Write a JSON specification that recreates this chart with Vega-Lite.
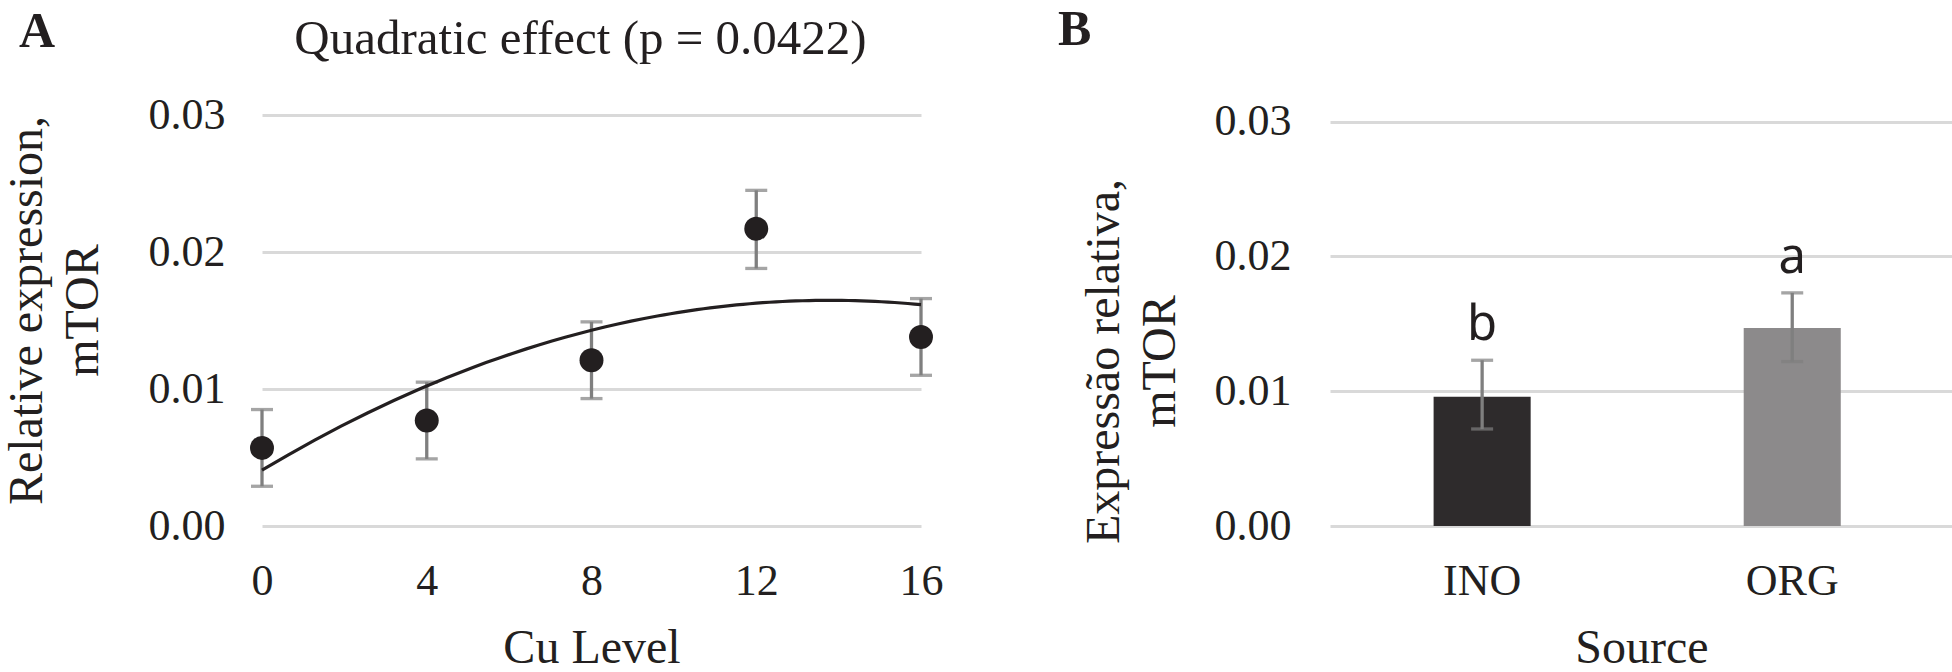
{
  "$schema": "https://vega.github.io/schema/vega-lite/v6.json",
  "background": "white",
  "padding": {"left": 3, "top": 4, "right": 0, "bottom": 0},
  "title": {"text": "A", "anchor": "start", "frame": "bounds", "font": "Liberation Serif", "fontSize": 50, "fontWeight": "bold", "color": "#231f20", "offset": -52, "dx": 16},
  "datasets": {
    "cu": [
      {"cu": 0, "mean": 0.0057, "lo": 0.0029, "hi": 0.0085},
      {"cu": 4, "mean": 0.0077, "lo": 0.0049, "hi": 0.0105},
      {"cu": 8, "mean": 0.0121, "lo": 0.0093, "hi": 0.0149},
      {"cu": 12, "mean": 0.0217, "lo": 0.0188, "hi": 0.0245},
      {"cu": 16, "mean": 0.0138, "lo": 0.0110, "hi": 0.0166}
    ],
    "src": [
      {"source": "INO", "mean": 0.0096, "lo": 0.0072, "hi": 0.0123, "letter": "b"},
      {"source": "ORG", "mean": 0.0147, "lo": 0.0122, "hi": 0.0173, "letter": "a"}
    ]
  },
  "config": {
    "view": {"stroke": null},
    "axis": {
      "labelFont": "Liberation Serif", "labelFontSize": 44, "labelColor": "#231f20",
      "titleFont": "Liberation Serif", "titleFontSize": 48, "titleFontWeight": "normal", "titleColor": "#231f20",
      "domain": false, "ticks": false, "gridColor": "#d9d9d9", "gridWidth": 3, "labelFlush": false
    }
  },
  "spacing": 115,
  "hconcat": [
    {
      "width": 659, "height": 411,
      "title": {"text": "Quadratic effect (p = 0.0422)", "font": "Liberation Serif", "fontSize": 49, "fontWeight": "normal", "color": "#231f20", "anchor": "middle", "offset": 29, "dx": -11},
      "data": {"name": "cu"},
      "layer": [
        {
          "mark": {"type": "errorbar", "ticks": {"size": 22, "thickness": 3.3, "color": "#7f7f7f"}, "rule": {"strokeWidth": 3.3, "color": "#7f7f7f"}},
          "encoding": {
            "x": {"field": "cu", "type": "quantitative", "scale": {"domain": [0, 16], "nice": false, "zero": false},
                  "axis": {"values": [0, 4, 8, 12, 16], "grid": false, "title": "Cu Level", "labelPadding": 33, "titlePadding": 21, "labelFlush": false}},
            "y": {"field": "lo", "type": "quantitative", "scale": {"domain": [0, 0.03], "nice": false},
                  "axis": {"values": [0, 0.01, 0.02, 0.03], "format": ".2f", "grid": true, "labelPadding": 37, "titlePadding": 41,
                           "title": ["Relative expression,", "mTOR"], "titleLineHeight": 56, "titleY": 195}},
            "y2": {"field": "hi"}
          }
        },
        {
          "transform": [{"regression": "mean", "on": "cu", "method": "poly", "order": 2, "extent": [0, 16]}],
          "mark": {"type": "line", "color": "#231f20", "strokeWidth": 3.2},
          "encoding": {
            "x": {"field": "cu", "type": "quantitative"},
            "y": {"field": "mean", "type": "quantitative"}
          }
        },
        {
          "mark": {"type": "circle", "size": 573, "opacity": 1, "color": "#231f20"},
          "encoding": {
            "x": {"field": "cu", "type": "quantitative"},
            "y": {"field": "mean", "type": "quantitative"}
          }
        }
      ]
    },
    {
      "width": 623, "height": 411,
      "title": {"text": "B", "anchor": "start", "frame": "bounds", "font": "Liberation Serif", "fontSize": 50, "fontWeight": "bold", "color": "#231f20", "dx": -22, "offset": 45},
      "data": {"name": "src"},
      "layer": [
        {
          "mark": {"type": "bar"},
          "encoding": {
            "x": {"field": "source", "type": "nominal", "scale": {"paddingInner": 0.687, "paddingOuter": 0.348, "align": 0.48},
                  "axis": {"labelAngle": 0, "title": "Source", "labelPadding": 33, "titlePadding": 21}},
            "y": {"field": "mean", "type": "quantitative", "scale": {"domain": [0, 0.0305], "nice": false},
                  "axis": {"values": [0, 0.01, 0.02, 0.03], "format": ".2f", "grid": true, "labelPadding": 39, "titlePadding": 30,
                           "title": ["Expressão relativa,", "mTOR"], "titleLineHeight": 56, "titleY": 246}},
            "color": {"field": "source", "type": "nominal", "scale": {"domain": ["INO", "ORG"], "range": ["#2e2b2c", "#8c8a8b"]}, "legend": null}
          }
        },
        {
          "mark": {"type": "errorbar", "ticks": {"size": 22, "thickness": 3.3, "color": "#7f7f7f"}, "rule": {"strokeWidth": 3.3, "color": "#7f7f7f"}},
          "encoding": {
            "x": {"field": "source", "type": "nominal"},
            "y": {"field": "lo", "type": "quantitative", "title": ["Expressão relativa,", "mTOR"]},
            "y2": {"field": "hi"}
          }
        },
        {
          "mark": {"type": "text", "font": "Noto Sans", "fontSize": 49, "color": "#231f20", "baseline": "alphabetic", "dy": -20},
          "encoding": {
            "x": {"field": "source", "type": "nominal"},
            "y": {"field": "hi", "type": "quantitative", "title": ["Expressão relativa,", "mTOR"]},
            "text": {"field": "letter"}
          }
        }
      ]
    }
  ]
}
